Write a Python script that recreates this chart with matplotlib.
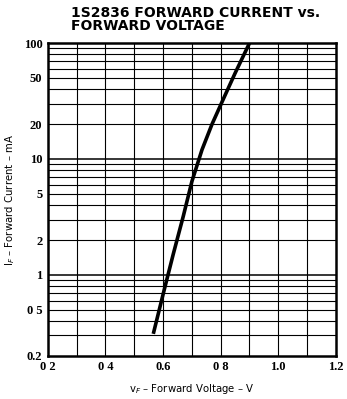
import numpy as np
import matplotlib.pyplot as plt

# curve
vf = [0.566, 0.60, 0.635, 0.67, 0.70, 0.735, 0.77, 0.807, 0.85, 0.90]
i_f = [0.31, 0.68, 1.5, 3.2, 6.4, 12, 20, 32, 55, 100]

xticks = [0.2, 0.4, 0.6, 0.8, 1.0, 1.2]
xticklabels = ['0 2', '0 4', '0.6', '0 8', '1.0', '1.2']
yticks = [0.2, 0.5, 1, 2, 5, 10, 20, 50, 100]
yticklabels = ['0.2', '0 5', '1', '2', '5', '10', '20', '50', '100']

fig = plt.figure(figsize=(3.47, 3.99), dpi=100)
ax = fig.add_axes([0.138, 0.108, 0.83, 0.784])

ax.set_yscale('log')
ax.set_xlim(0.2, 1.2)
ax.set_ylim(0.2, 100)

# grid: every 0.1 V and every log minor step
for x in np.arange(0.3, 1.2, 0.1):
    ax.axvline(x, color='black', lw=0.8)
for dec in [0.1, 1, 10]:
    for m in range(1, 10):
        y = m * dec
        if 0.2 < y < 100:
            ax.axhline(y, color='black', lw=1.1 if m == 1 else 0.8)

ax.plot(vf, i_f, color='black', lw=2.6, solid_capstyle='butt')

ax.set_xticks(xticks)
ax.set_xticklabels(xticklabels, fontfamily='Liberation Serif', fontweight='bold', fontsize=9)
ax.set_yticks(yticks)
ax.set_yticklabels(yticklabels, fontfamily='Liberation Serif', fontweight='bold', fontsize=9)
ax.minorticks_off()
ax.tick_params(length=0, pad=4)

for s in ax.spines.values():
    s.set_linewidth(1.8)

ax.set_xlabel('v$_F$ – Forward Voltage – V', fontsize=7.3, labelpad=6)
ax.set_ylabel('I$_F$ – Forward Current – mA', fontsize=7.3, labelpad=5)

fig.text(0.205, 0.985, '1S2836 FORWARD CURRENT vs.\nFORWARD VOLTAGE',
         ha='left', va='top', fontsize=10, fontweight='bold', linespacing=0.95)

fig.savefig('out.png', dpi=100)
